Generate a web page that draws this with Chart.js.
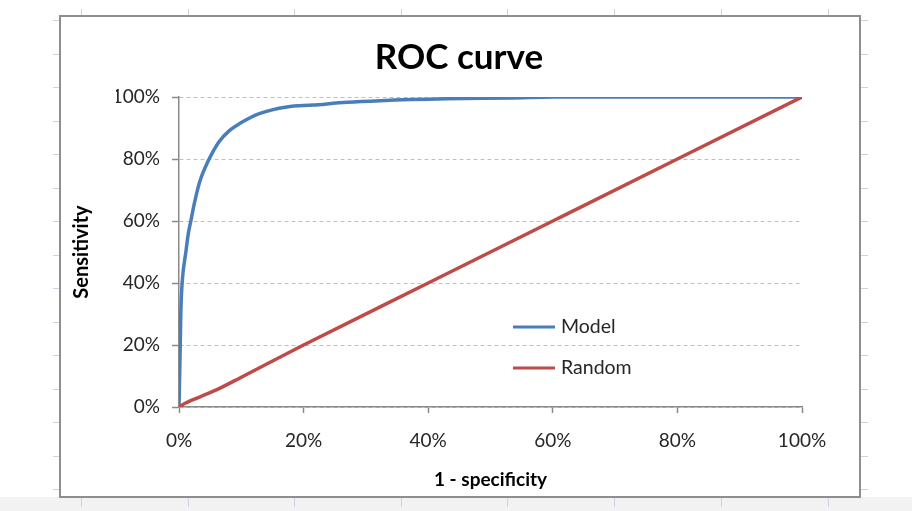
<!DOCTYPE html>
<html>
<head>
<meta charset="utf-8">
<script src="https://cdn.jsdelivr.net/npm/chart.js@4/dist/chart.umd.min.js"></script>
<style>
  html, body { margin: 0; padding: 0; background: #ffffff; }
  body { width: 912px; height: 511px; position: relative; overflow: hidden; font-family: Lato, sans-serif; }
  #strip { position: absolute; left: 0; top: 497px; width: 912px; height: 14px; background: #f2f2f2; }
  #frame { position: absolute; left: 59px; top: 15px; width: 802px; height: 483px; box-sizing: border-box; border: 2px solid #8e8e8e; background: #fff; }
  #frame canvas { position: absolute; left: 0; top: 0; }
  .mk { position: absolute; background: #c9d3e3; }
</style>
</head>
<body>
<div id="strip"></div>
<div id="frame"><canvas id="c" width="798" height="479"></canvas></div>
<script>
// ---- data (percent) ----
const modelX  = [0, 0.2, 0.3, 0.5, 1.1, 1.5, 1.9, 2.5, 3.3, 4.6, 6.4, 8.0, 9.8, 13.0, 17.3, 21.5, 27.0, 32.3, 43.0, 53.6, 60.0, 100];
const modelY  = [0, 20, 31, 40, 50, 56, 60, 66, 72.5, 79, 85.5, 89, 91.5, 94.7, 96.8, 97.4, 98.3, 98.8, 99.4, 99.7, 100, 100];
const randomX = [0, 1.0, 3.4, 6.0, 10, 20, 40, 60, 80, 100];
const randomY = [0, 1.2, 3.3, 5.5, 9.6, 20, 40, 60, 80, 100];
const seriesNames = ['Model', 'Random'];
const tickValues = [0, 20, 40, 60, 80, 100];
const chartTitle = 'ROC curve';
const xTitle = '1 - specificity';
const yTitle = 'Sensitivity';

// decorative spreadsheet marks around frame
(function(){
  const ys = [20, 53.5, 87, 120.5, 154, 187.5, 221, 254.5, 288, 321.5, 355, 388.5, 422, 455.5, 489];
  const xs = [81, 187.5, 294, 401, 507, 614, 721, 828];
  ys.forEach(y => {
    [[53, 6], [861, 7]].forEach(([x, w]) => {
      const d = document.createElement('div'); d.className = 'mk';
      d.style.left = x + 'px'; d.style.top = Math.round(y) + 'px'; d.style.width = w + 'px'; d.style.height = '1px';
      document.body.appendChild(d);
    });
  });
  xs.forEach(x => {
    [[9, 6], [498, 9]].forEach(([y, h]) => {
      const d = document.createElement('div'); d.className = 'mk';
      d.style.left = Math.round(x) + 'px'; d.style.top = y + 'px'; d.style.width = '1px'; d.style.height = h + 'px';
      document.body.appendChild(d);
    });
  });
})();

const toPts = (xs, ys) => xs.map((x, i) => ({x: x, y: ys[i]}));
const axisGray = '#8a8a8a';
const tickFont = {family: 'Lato', size: 19};

const legendPlugin = {
  id: 'innerLegend',
  afterDraw(chart) {
    const {ctx, chartArea} = chart;
    ctx.save();
    chart.data.datasets.forEach((ds, i) => {
      const y = chartArea.top + 230 + i * 41;
      const x0 = chartArea.left + 334;
      ctx.strokeStyle = ds.borderColor;
      ctx.lineWidth = 3;
      ctx.beginPath();
      ctx.moveTo(x0, y);
      ctx.lineTo(x0 + 42, y);
      ctx.stroke();
      ctx.fillStyle = '#262626';
      ctx.font = '19.5px Lato';
      ctx.textBaseline = 'middle';
      ctx.textAlign = 'left';
      ctx.fillText(ds.label, x0 + 48, y);
    });
    ctx.restore();
  }
};

new Chart(document.getElementById('c'), {
  type: 'line',
  data: {
    datasets: [
      {label: seriesNames[0], data: toPts(modelX, modelY), borderColor: '#4a7ebb', borderWidth: 3.5, pointRadius: 0, cubicInterpolationMode: 'monotone', order: 1},
      {label: seriesNames[1], data: toPts(randomX, randomY), borderColor: '#be4b48', borderWidth: 3.5, pointRadius: 0, cubicInterpolationMode: 'monotone', order: 0}
    ]
  },
  options: {
    responsive: false,
    animation: false,
    devicePixelRatio: 1,
    layout: {padding: {left: 55, right: 57, top: 0, bottom: 0}},
    plugins: {
      legend: {display: false},
      tooltip: {enabled: false},
      title: {display: true, text: chartTitle, color: '#000', font: {family: 'Lato', size: 35, weight: 'bold', lineHeight: 1.2}, padding: {top: 20, bottom: 18}}
    },
    scales: {
      x: {
        type: 'linear', min: 0, max: 100,
        afterBuildTicks: s => { s.ticks = tickValues.map(v => ({value: v})); },
        afterFit: s => { s.height = 89; },
        ticks: {callback: v => v + '%', font: tickFont, color: '#262626', padding: 16, maxRotation: 0},
        grid: {drawOnChartArea: false, drawTicks: true, tickLength: 6, tickColor: axisGray, tickWidth: 1.5},
        border: {color: axisGray, width: 1.5},
        title: {display: true, text: xTitle, color: '#000', font: {family: 'Lato', size: 19, weight: 'bold', lineHeight: 1.2}, padding: {top: 0, bottom: 5}}
      },
      y: {
        type: 'linear', min: 0, max: 100,
        afterBuildTicks: s => { s.ticks = tickValues.map(v => ({value: v})); },
        afterFit: s => { s.width = 63; },
        ticks: {callback: v => v + '%', font: tickFont, color: '#262626', padding: 12},
        grid: {color: '#c0c0c0', lineWidth: 1, drawTicks: true, tickLength: 7, tickColor: axisGray, tickWidth: 1.5, tickBorderDash: []},
        border: {color: axisGray, width: 1.5, dash: [4, 3]},
        title: {display: true, text: yTitle, color: '#000', font: {family: 'Lato', size: 20, weight: 'bold', lineHeight: 1.2}, padding: {top: -46, bottom: 0}}
      }
    }
  },
  plugins: [legendPlugin]
});
</script>
</body>
</html>
